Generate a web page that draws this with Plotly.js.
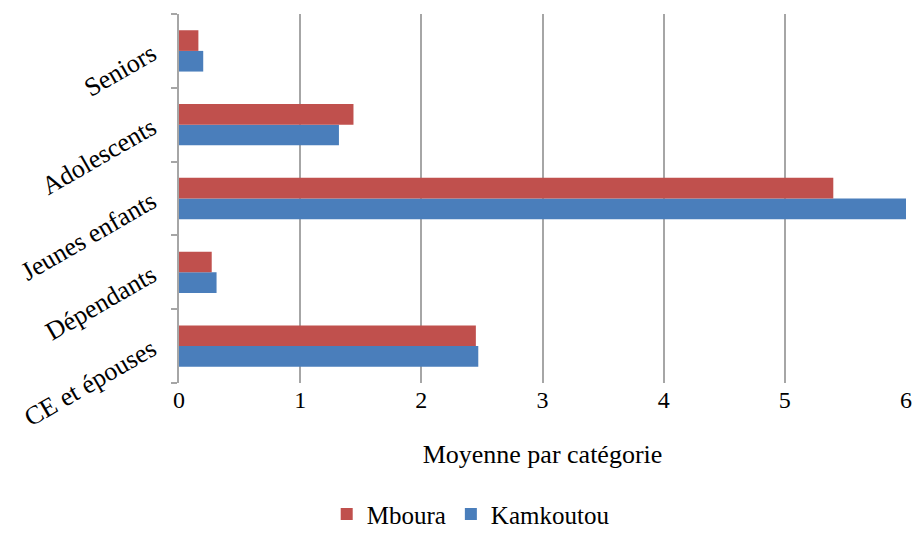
<!DOCTYPE html>
<html><head><meta charset="utf-8">
<script src="https://cdn.plot.ly/plotly-3.0.1.min.js"></script>
<style>html,body{margin:0;padding:0;background:#fff}#chart{width:914px;height:533px}</style>
</head><body><div id="chart"></div>
<script>
const categories = ["CE et épouses", "Dépendants", "Jeunes enfants", "Adolescents", "Seniors"];
const mboura = [2.45, 0.27, 5.40, 1.44, 0.16];
const kamkoutou = [2.47, 0.31, 6.05, 1.32, 0.20];
const xTicks = [0, 1, 2, 3, 4, 5, 6];

const font = {family: "Liberation Serif", color: "#000"};
const traces = [
  {type: "bar", orientation: "h", name: "Kamkoutou", y: categories, x: kamkoutou,
   marker: {color: "#4A7EBB"}},
  {type: "bar", orientation: "h", name: "Mboura", y: categories, x: mboura,
   marker: {color: "#C0504D"}}
];
const layout = {
  width: 914, height: 533,
  margin: {l: 179, r: 8, t: 14, b: 150},
  paper_bgcolor: "#fff", plot_bgcolor: "#fff",
  barmode: "group", bargap: 0.44, bargroupgap: 0,
  font: Object.assign({size: 24}, font),
  xaxis: {
    range: [0, 6], tickvals: xTicks, ticktext: xTicks.map(String),
    showgrid: true, gridcolor: "#A6A6A6", gridwidth: 2,
    zeroline: false, showline: false, ticks: "",
    ticklabeloverflow: "allow",
    tickfont: Object.assign({size: 24}, font),
    title: {text: "Moyenne par catégorie", font: Object.assign({size: 26}, font), standoff: 32},
    fixedrange: true
  },
  yaxis: {
    type: "category", categoryorder: "array", categoryarray: categories,
    showgrid: false, zeroline: false,
    showline: true, linecolor: "#A6A6A6", linewidth: 2,
    ticks: "outside", ticklen: 6, tickcolor: "#A6A6A6", tickwidth: 2,
    tickson: "boundaries",
    tickangle: -30,
    ticklabelstandoff: 20,
    tickfont: Object.assign({size: 26}, font),
    fixedrange: true
  },
  showlegend: true,
  legend: {orientation: "h", xref: "container", x: 0.515, xanchor: "center",
    yref: "container", y: 0.035, yanchor: "middle",
    traceorder: "reversed", itemwidth: 30, font: Object.assign({size: 25}, font)}
};
Plotly.newPlot("chart", traces, layout, {displayModeBar: false, staticPlot: true});
</script></body></html>
